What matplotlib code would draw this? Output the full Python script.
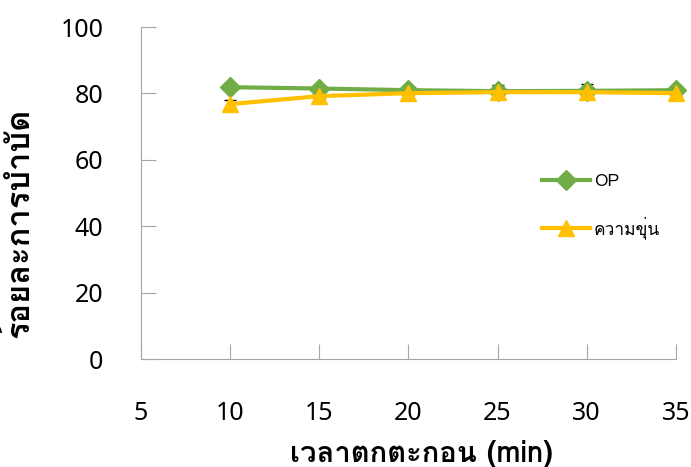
import matplotlib
matplotlib.use('Agg')
import matplotlib.pyplot as plt
from matplotlib import font_manager
from matplotlib.ft2font import FT2Font

# ข้อมูล
x = [10, 15, 20, 25, 30, 35]
op = [81.9, 81.5, 81.0, 80.7, 80.8, 81.0]
op_err = [0.5, 0.5, 0.8, 1.8, 2.0, 0.5]
turb = [76.8, 79.2, 80.1, 80.4, 80.4, 80.1]
turb_err = [1.2, 0.5, 0.5, 0.5, 0.6, 0.5]
labels = ['OP', 'ความขุ่น']

# หาฟอนต์ที่มีอักษรไทย
thai = None
for f in font_manager.fontManager.ttflist:
    try:
        if 0x0E01 in FT2Font(f.fname).get_charmap():
            thai = f.name
            break
    except Exception:
        pass
fams = ([thai] if thai else []) + ['DejaVu Sans']
plt.rcParams['font.family'] = fams

fig = plt.figure(figsize=(6.91, 4.67), dpi=100)
ax = fig.add_axes([0.204, 0.231, 0.774, 0.711])

# error bar อยู่หลังเส้น
ax.errorbar(x, op, yerr=op_err, fmt='none', ecolor='black', elinewidth=1, capsize=4, zorder=2)
ax.errorbar(x, turb, yerr=turb_err, fmt='none', ecolor='black', elinewidth=1, capsize=4, zorder=2)
ax.plot(x, op, color='#70AD47', lw=3, marker='D', ms=10, label=labels[0], zorder=3, clip_on=False)
ax.plot(x, turb, color='#FFC000', lw=3, marker='^', ms=11, label=labels[1], zorder=4, clip_on=False)

ax.set_xlim(5, 35)
ax.set_ylim(0, 100)
ax.set_xticks(range(5, 40, 5))
ax.set_yticks(range(0, 120, 20))
for s in ['top', 'right']:
    ax.spines[s].set_visible(False)
for s in ['left', 'bottom']:
    ax.spines[s].set_color('#A6A6A6')
ax.tick_params(axis='both', direction='in', length=11, color='#A6A6A6',
               labelsize=18, labelcolor='black')
ax.tick_params(axis='x', pad=30)
ax.tick_params(axis='y', pad=27)
for t in ax.get_xticklabels() + ax.get_yticklabels():
    t.set_family(['Noto Sans', 'DejaVu Sans'])

ax.set_xlabel('เวลาตกตะกอน (min)', fontsize=21, fontweight='bold')
ax.set_ylabel('ร้อยละการบำบัด', fontsize=23.5, fontweight='bold')
ax.xaxis.set_label_coords(0.525, -0.245)
ax.yaxis.set_label_coords(-0.2, 0.41)

ax.legend(loc='center left', bbox_to_anchor=(0.72, 0.46), frameon=False,
          fontsize=12.5, handlelength=2.8, labelspacing=1.5, handletextpad=0.2)

fig.savefig('out.png', dpi=100)
